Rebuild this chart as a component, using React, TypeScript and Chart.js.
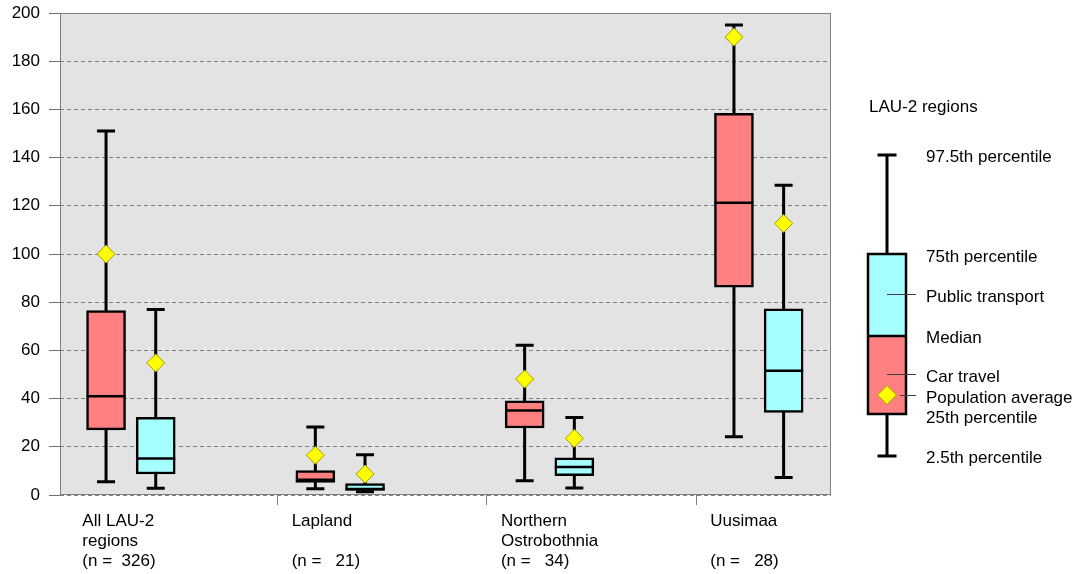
import React, { useEffect, useRef } from "react";
import { Chart, registerables } from "chart.js";

Chart.register(...registerables);

const FONT = '"Liberation Sans", Arial, sans-serif';
const FONT_SIZE = 17;

// Categories (multi-line axis labels)
const categoryLines: string[][] = [
  ["All LAU-2", "regions", "(n =  326)"],
  ["Lapland", "", "(n =   21)"],
  ["Northern", "Ostrobothnia", "(n =   34)"],
  ["Uusimaa", "", "(n =   28)"],
];

const yTickValues = [0, 20, 40, 60, 80, 100, 120, 140, 160, 180, 200];
const groupSeparatorTicks = [0.7, 1.7, 2.7];

// Car travel
const carP025 = [5.5, 2.6, 5.9, 24.2];
const carQ1 = [27, 5.2, 27.8, 86.2];
const carMedian = [41, 6.3, 35.1, 121.3];
const carQ3 = [76.5, 10.1, 39.1, 158.4];
const carP975 = [151, 28.2, 62.1, 195];
const carMean = [100, 16.5, 48.1, 190];

// Public transport
const ptP025 = [2.8, 1.4, 2.9, 7.3];
const ptQ1 = [8.7, 1.9, 8, 34.3];
const ptMedian = [15.1, 2.5, 11.6, 51.6];
const ptQ3 = [32.2, 4.7, 15.4, 77.3];
const ptP975 = [77, 16.7, 32.2, 128.5];
const ptMean = [54.8, 8.7, 23.5, 112.7];

const legendTitle = "LAU-2 regions";
const legendLabels = [
  "97.5th percentile",
  "75th percentile",
  "Public transport",
  "Median",
  "Car travel",
  "Population average",
  "25th percentile",
  "2.5th percentile",
];

const CAR_COLOR = "#ff8080";
const PT_COLOR = "#a6ffff";
const BG = "#e3e3e3";
const GRID = "#808080";
const OFFSET = 0.1187;
const BOX_W = 39;
const CAP_HALF = 9;

export default function App() {
  const ref = useRef<HTMLCanvasElement>(null);

  useEffect(() => {
    const canvas = ref.current!;
    const carX = categoryLines.map((_, i) => i - OFFSET);
    const ptX = categoryLines.map((_, i) => i + OFFSET);
    const series = [
      { x: carX, lo: carP025, hi: carP975, med: carMedian },
      { x: ptX, lo: ptP025, hi: ptP975, med: ptMedian },
    ];

    const boxPlugin = {
      id: "boxplot",
      beforeDraw(chart: any) {
        const { ctx, chartArea: a } = chart;
        ctx.save();
        ctx.fillStyle = BG;
        ctx.fillRect(a.left, a.top, a.right - a.left, a.bottom - a.top);
        ctx.restore();
      },
      beforeDatasetsDraw(chart: any) {
        const { ctx, chartArea: a } = chart;
        const xs = chart.scales.x;
        const ys = chart.scales.y;
        ctx.save();
        ctx.strokeStyle = GRID;
        ctx.lineWidth = 1;
        ctx.strokeRect(a.left + 0.5, a.top + 0.5, a.right - a.left - 1, a.bottom - a.top - 1);
        ctx.strokeStyle = "#000";
        ctx.lineWidth = 3;
        ctx.lineCap = "butt";
        series.forEach((s) => {
          s.x.forEach((xv, i) => {
            const px = xs.getPixelForValue(xv);
            const yLo = ys.getPixelForValue(s.lo[i]);
            const yHi = ys.getPixelForValue(s.hi[i]);
            ctx.beginPath();
            ctx.moveTo(px, yLo);
            ctx.lineTo(px, yHi);
            ctx.moveTo(px - CAP_HALF, yLo);
            ctx.lineTo(px + CAP_HALF, yLo);
            ctx.moveTo(px - CAP_HALF, yHi);
            ctx.lineTo(px + CAP_HALF, yHi);
            ctx.stroke();
          });
        });
        ctx.restore();
      },
      afterDatasetDraw(chart: any, args: any) {
        if (args.index > 1) return;
        const s = series[args.index];
        const { ctx } = chart;
        const xs = chart.scales.x;
        const ys = chart.scales.y;
        ctx.save();
        ctx.strokeStyle = "#000";
        ctx.lineWidth = 2.5;
        s.x.forEach((xv, i) => {
          const px = xs.getPixelForValue(xv);
          const py = ys.getPixelForValue(s.med[i]);
          ctx.beginPath();
          ctx.moveTo(px - BOX_W / 2, py);
          ctx.lineTo(px + BOX_W / 2, py);
          ctx.stroke();
        });
        ctx.restore();
      },
      afterDraw(chart: any) {
        const { ctx, chartArea: a } = chart;
        const xs = chart.scales.x;
        ctx.save();
        ctx.fillStyle = "#000";
        ctx.font = `${FONT_SIZE}px ${FONT}`;
        ctx.textAlign = "left";
        ctx.textBaseline = "alphabetic";
        categoryLines.forEach((lines, i) => {
          const lx = xs.getPixelForValue(i - 0.232);
          lines.forEach((t, k) => {
            if (t) ctx.fillText(t, lx, a.bottom + 30.7 + 20 * k);
          });
        });

        // Legend (schematic)
        const cx = 887;
        const yTop = 155;
        const yQ3 = 254;
        const yMed = 336;
        const yQ1 = 414;
        const yBot = 456;
        ctx.textBaseline = "middle";
        ctx.fillText(legendTitle, 869, 107);
        ctx.strokeStyle = "#000";
        ctx.lineWidth = 3;
        ctx.beginPath();
        ctx.moveTo(cx, yTop);
        ctx.lineTo(cx, yBot);
        ctx.moveTo(cx - 9.5, yTop);
        ctx.lineTo(cx + 9.5, yTop);
        ctx.moveTo(cx - 9.5, yBot);
        ctx.lineTo(cx + 9.5, yBot);
        ctx.stroke();
        const bx = cx - 19;
        ctx.fillStyle = PT_COLOR;
        ctx.fillRect(bx, yQ3, 38, yMed - yQ3);
        ctx.fillStyle = CAR_COLOR;
        ctx.fillRect(bx, yMed, 38, yQ1 - yMed);
        ctx.lineWidth = 2.5;
        ctx.strokeRect(bx, yQ3, 38, yQ1 - yQ3);
        ctx.beginPath();
        ctx.moveTo(bx, yMed);
        ctx.lineTo(bx + 38, yMed);
        ctx.stroke();
        ctx.strokeStyle = "#404040";
        ctx.lineWidth = 1;
        ctx.beginPath();
        ctx.moveTo(cx, 294.5);
        ctx.lineTo(916, 294.5);
        ctx.moveTo(cx, 374.5);
        ctx.lineTo(916, 374.5);
        ctx.moveTo(cx + 13, 395.5);
        ctx.lineTo(916, 395.5);
        ctx.stroke();
        // diamond
        ctx.beginPath();
        ctx.moveTo(cx, 395 - 9.5);
        ctx.lineTo(cx + 9.5, 395);
        ctx.lineTo(cx, 395 + 9.5);
        ctx.lineTo(cx - 9.5, 395);
        ctx.closePath();
        ctx.fillStyle = "#ffff00";
        ctx.fill();
        ctx.strokeStyle = "#a0a000";
        ctx.stroke();

        ctx.fillStyle = "#000";
        const ly = [157, 257, 297, 338, 377, 398, 418.5, 458.5];
        legendLabels.forEach((t, k) => ctx.fillText(t, 926, ly[k]));
        ctx.restore();
      },
    };

    const barCommon = {
      type: "bar",
      borderColor: "#000",
      borderWidth: 2.5,
      borderSkipped: false,
      grouped: false,
      barPercentage: 1,
      categoryPercentage: 1,
      maxBarThickness: BOX_W,
    };

    const chart = new Chart(canvas, {
      type: "bar",
      data: {
        datasets: [
          {
            ...barCommon,
            label: "Car travel",
            data: carQ1.map((q1, i) => ({ x: carX[i], y: [q1, carQ3[i]] })) as any,
            backgroundColor: CAR_COLOR,
            order: 2,
          } as any,
          {
            ...barCommon,
            label: "Public transport",
            data: ptQ1.map((q1, i) => ({ x: ptX[i], y: [q1, ptQ3[i]] })) as any,
            backgroundColor: PT_COLOR,
            order: 1,
          } as any,
          {
            type: "scatter",
            label: "Population average",
            data: [
              ...carMean.map((v, i) => ({ x: carX[i], y: v })),
              ...ptMean.map((v, i) => ({ x: ptX[i], y: v })),
            ],
            pointStyle: "rectRot",
            radius: 9,
            backgroundColor: "#ffff00",
            borderColor: "#a0a000",
            borderWidth: 1,
            order: 0,
          } as any,
        ],
      },
      options: {
        responsive: false,
        maintainAspectRatio: false,
        animation: false,
        events: [],
        layout: { padding: { top: 13, right: 255, left: 0, bottom: 0 } },
        plugins: { legend: { display: false }, tooltip: { enabled: false } },
        scales: {
          x: {
            type: "linear",
            offset: false,
            min: -0.3387,
            max: 3.345,
            afterBuildTicks: (s: any) => {
              s.ticks = groupSeparatorTicks.map((v) => ({ value: v }));
            },
            ticks: { display: false },
            grid: { drawOnChartArea: false, tickLength: 10, color: GRID, offset: false },
            border: { display: false },
            afterFit: (s: any) => {
              s.height = 79;
              s.paddingLeft = 0;
              s.paddingRight = 0;
            },
          },
          y: {
            type: "linear",
            min: 0,
            max: 200,
            afterBuildTicks: (s: any) => {
              s.ticks = yTickValues.map((v) => ({ value: v }));
            },
            ticks: { color: "#000", padding: 9, font: { family: FONT, size: FONT_SIZE } },
            grid: { color: GRID, lineWidth: 1, tickLength: 11, tickColor: "#707070", tickBorderDash: [] },
            border: { display: false, dash: [4, 3] },
            afterFit: (s: any) => {
              s.width = 60;
              s.paddingTop = 0;
              s.paddingBottom = 0;
            },
          },
        } as any,
      },
      plugins: [boxPlugin],
    });

    return () => chart.destroy();
  }, []);

  return (
    <div style={{ position: "fixed", left: 0, top: 0, width: 1086, height: 574, background: "#fff" }}>
      <canvas ref={ref} width={1086} height={574} style={{ display: "block" }} />
    </div>
  );
}
